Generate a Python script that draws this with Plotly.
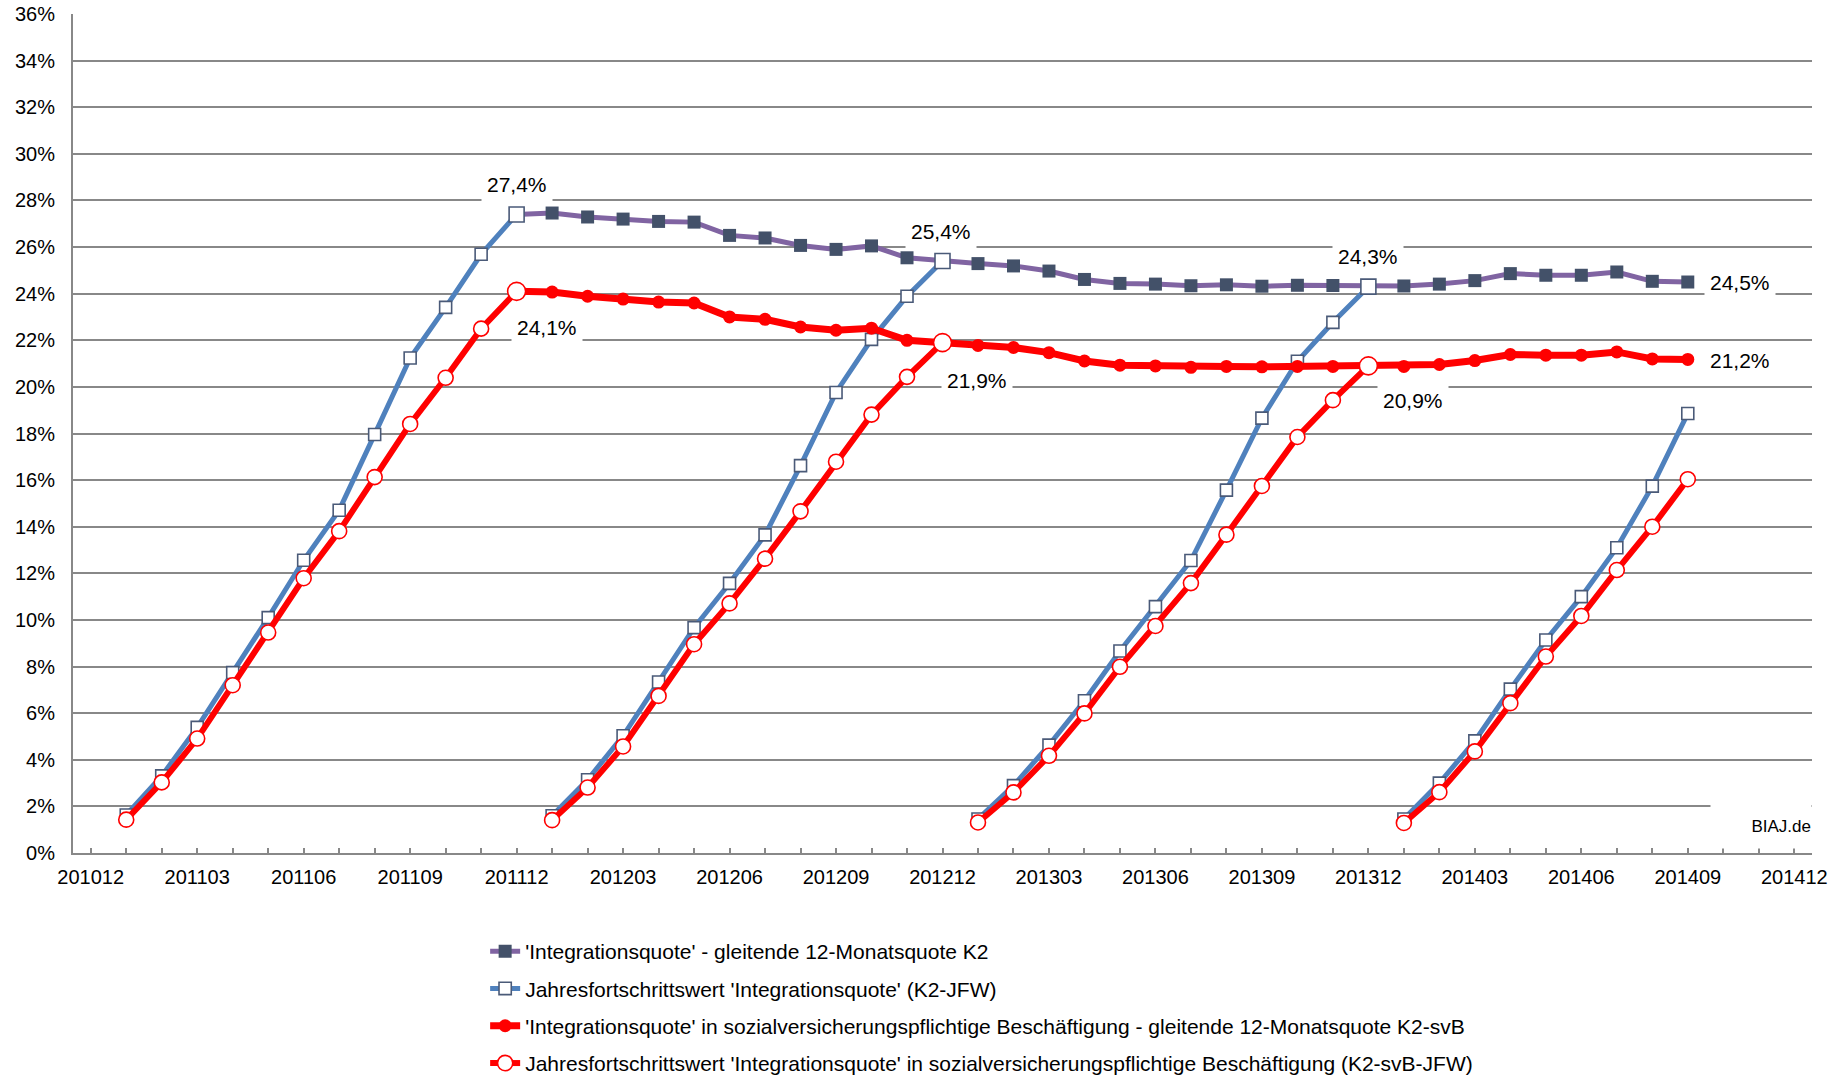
import plotly.graph_objects as go

months = ["201012",
          "201101", "201102", "201103", "201104", "201105", "201106",
          "201107", "201108", "201109", "201110", "201111", "201112",
          "201201", "201202", "201203", "201204", "201205", "201206",
          "201207", "201208", "201209", "201210", "201211", "201212",
          "201301", "201302", "201303", "201304", "201305", "201306",
          "201307", "201308", "201309", "201310", "201311", "201312",
          "201401", "201402", "201403", "201404", "201405", "201406",
          "201407", "201408", "201409", "201410", "201411", "201412"]
tick_labels = months[::3]

# 'Integrationsquote' - gleitende 12-Monatsquote K2 (from 201112)
k2 = [None] * 12 + [
    27.4, 27.46, 27.29, 27.2, 27.1, 27.07, 26.5, 26.39, 26.07, 25.9, 26.05, 25.54, 25.4,
    25.29, 25.19, 24.97, 24.61, 24.44, 24.41, 24.34, 24.38, 24.32, 24.36, 24.35, 24.3,
    24.33, 24.41, 24.56, 24.86, 24.79, 24.79, 24.93, 24.53, 24.5] + [None] * 3

# Jahresfortschrittswert 'Integrationsquote' (K2-JFW)
k2_jfw = [None,
          1.63, 3.31, 5.39, 7.74, 10.1, 12.56, 14.71, 17.96, 21.24, 23.41, 25.69, 27.4,
          1.6, 3.14, 5.03, 7.34, 9.67, 11.57, 13.65, 16.62, 19.76, 22.04, 23.89, 25.4,
          1.46, 2.89, 4.63, 6.53, 8.67, 10.57, 12.55, 15.57, 18.66, 21.1, 22.77, 24.3,
          1.46, 3.0, 4.81, 7.03, 9.14, 11.0, 13.1, 15.74, 18.86,
          None, None, None]

# 'Integrationsquote' in svB - gleitende 12-Monatsquote K2-svB (from 201112)
k2_svb = [None] * 12 + [
    24.1, 24.07, 23.89, 23.77, 23.64, 23.6, 23.0, 22.9, 22.57, 22.43, 22.52, 22.0, 21.9,
    21.78, 21.69, 21.47, 21.11, 20.93, 20.9, 20.84, 20.88, 20.86, 20.88, 20.88, 20.9,
    20.88, 20.96, 21.13, 21.39, 21.36, 21.36, 21.5, 21.2, 21.18] + [None] * 3

# Jahresfortschrittswert svB (K2-svB-JFW)
k2_svb_jfw = [None,
              1.43, 3.03, 4.91, 7.2, 9.46, 11.79, 13.81, 16.13, 18.41, 20.39, 22.5, 24.1,
              1.41, 2.81, 4.57, 6.74, 8.96, 10.71, 12.63, 14.66, 16.79, 18.81, 20.43, 21.9,
              1.31, 2.6, 4.17, 5.99, 7.99, 9.74, 11.58, 13.66, 15.75, 17.85, 19.43, 20.9,
              1.29, 2.61, 4.36, 6.43, 8.43, 10.17, 12.14, 14.0, 16.04,
              None, None, None]

names = ["'Integrationsquote' - gleitende 12-Monatsquote K2",
         "Jahresfortschrittswert 'Integrationsquote' (K2-JFW)",
         "'Integrationsquote' in sozialversicherungspflichtige Beschäftigung - gleitende 12-Monatsquote K2-svB",
         "Jahresfortschrittswert 'Integrationsquote' in sozialversicherungspflichtige Beschäftigung (K2-svB-JFW)"]

GRID = "#888888"
FONT = "Liberation Sans, Arial, sans-serif"

# positions of the months on the x axis (category index)
pos = list(range(len(months)))

# each Jahresfortschrittswert restarts in January: one segment per year
year_starts = [i for i, m in enumerate(months) if m.endswith("01")]
segments = [(s, s + 12) for s in year_starts]

fig = go.Figure()
fig.add_trace(go.Scatter(
    x=pos, y=k2, name=names[0], mode="lines+markers", legendgroup="a",
    line=dict(color="#8064A2", width=5),
    marker=dict(symbol="square", size=13, color="#435169", opacity=1, line=dict(width=0))))

for k, (a, b) in enumerate(segments):
    xs, ys, ms = pos[a:b], k2_jfw[a:b], months[a:b]
    fig.add_trace(go.Scatter(
        x=xs, y=ys, name=names[1], mode="lines+markers", legendgroup="b",
        showlegend=(k == 0),
        line=dict(color="#4F81BD", width=5),
        marker=dict(symbol="square", size=[15 if m.endswith("12") else 12 for m in ms],
                    color="white", opacity=1, line=dict(width=1.6, color="#4A5A78"))))

fig.add_trace(go.Scatter(
    x=pos, y=k2_svb, name=names[2], mode="lines+markers", legendgroup="c",
    line=dict(color="#FF0000", width=7),
    marker=dict(symbol="circle", size=13, color="#FF0000", opacity=1, line=dict(width=0))))

for k, (a, b) in enumerate(segments):
    xs, ys, ms = pos[a:b], k2_svb_jfw[a:b], months[a:b]
    fig.add_trace(go.Scatter(
        x=xs, y=ys, name=names[3], mode="lines+markers", legendgroup="d",
        showlegend=(k == 0),
        line=dict(color="#FF0000", width=6),
        marker=dict(symbol="circle", size=[18 if m.endswith("12") else 15 for m in ms],
                    color="white", opacity=1, line=dict(width=1.6, color="#FF0000"))))


def fmt(v):
    return f"{v:.1f}".replace(".", ",") + "%"


# data labels: (series, month, xshift, yshift)
labels = [(k2_jfw, "201112", 0, 30), (k2_svb_jfw, "201112", 30, -36),
          (k2_jfw, "201212", -2, 30), (k2_svb_jfw, "201212", 34, -38),
          (k2_jfw, "201312", 0, 30), (k2_svb_jfw, "201312", 45, -35),
          (k2, "201409", 52, 0), (k2_svb, "201409", 52, -1)]
for series, m, dx, dy in labels:
    i = months.index(m)
    v = series[i]
    fig.add_annotation(x=pos[i], y=v, xref="x", yref="y", text=fmt(v), showarrow=False,
                       xshift=dx, yshift=dy, bgcolor="white", borderpad=5,
                       font=dict(family=FONT, size=21, color="black"))

fig.add_annotation(xref="paper", yref="paper", x=1, y=0, xanchor="right", yanchor="bottom",
                   text="BIAJ.de", showarrow=False, bgcolor="white", width=100, height=44,
                   align="right", valign="middle", yshift=4, borderpad=0,
                   font=dict(family=FONT, size=17, color="black"))

fig.update_layout(
    width=1840, height=1079,
    margin=dict(l=73, r=28, t=14, b=226),
    plot_bgcolor="white", paper_bgcolor="white",
    font=dict(family=FONT, size=20, color="black"),
    xaxis=dict(type="linear", range=[-0.5, len(months) - 0.5],
               tickmode="array", tickvals=pos[::3], ticktext=tick_labels,
               ticks="inside", ticklen=5, tickwidth=2, tickcolor=GRID,
               minor=dict(tick0=0, dtick=1, ticks="inside", ticklen=5, tickwidth=2,
                          tickcolor=GRID, showgrid=False),
               showgrid=False, showline=True, linecolor=GRID, linewidth=2,
               zeroline=False, tickangle=0, automargin=False, ticklabelstandoff=5,
               tickfont=dict(family=FONT, size=20, color="black")),
    yaxis=dict(range=[0, 36], dtick=2, ticksuffix="%", showgrid=True, gridcolor=GRID,
               gridwidth=2, showline=True, linecolor=GRID, linewidth=2, zeroline=False,
               ticks="", ticklabelstandoff=12, automargin=False,
               tickfont=dict(family=FONT, size=20, color="black")),
    legend=dict(xref="paper", yref="container", x=0.237, y=1 - 931 / 1079,
                xanchor="left", yanchor="top", tracegroupgap=7,
                font=dict(family=FONT, size=21, color="black"),
                bgcolor="rgba(0,0,0,0)"),
    showlegend=True,
)

fig.write_html("out.html", post_script="document.body.style.margin='0';",
               config={"displayModeBar": False})
